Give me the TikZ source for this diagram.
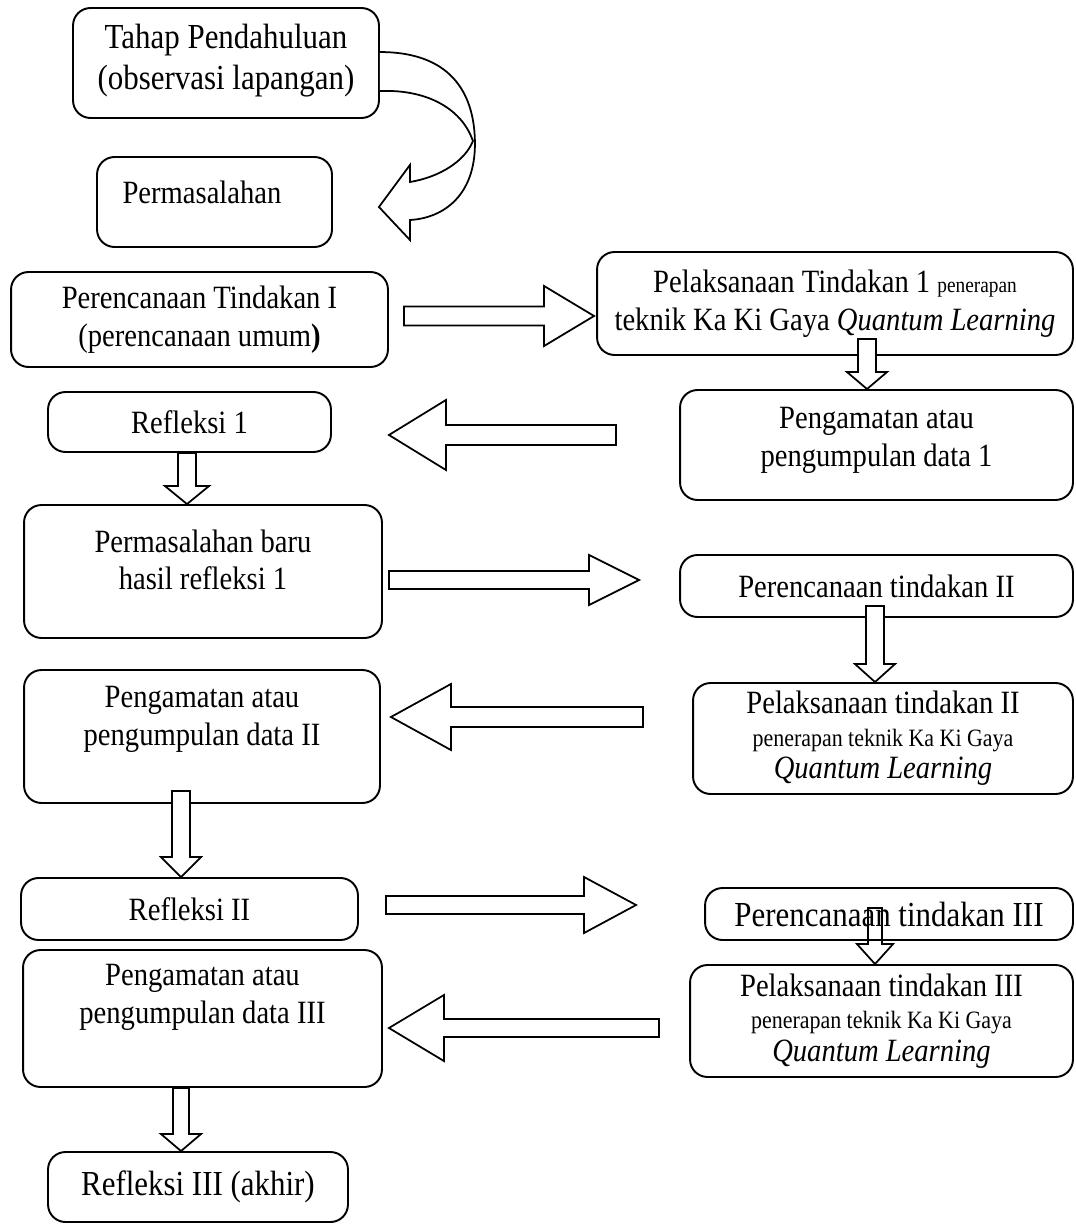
\documentclass[tikz,border=0pt]{standalone}
\usepackage{fontspec}
\setmainfont{Liberation Serif}[FakeStretch=0.88]
\usetikzlibrary{calc}

% block arrow: [options]{from}{to}{shaft half width}{head half width}{head length}, sizes in px
\newcommand{\fatarrow}[6][]{%
  \coordinate (fa-h) at ($(#3)!#6*0.02cm!(#2)$);
  \draw[fat,#1] ($(#2)!#4*0.02cm!90:(#3)$) -- ($(fa-h)!#4*0.02cm!90:(#3)$)
    -- ($(fa-h)!#5*0.02cm!90:(#3)$) -- (#3)
    -- ($(fa-h)!#5*0.02cm!-90:(#3)$) -- ($(fa-h)!#4*0.02cm!-90:(#3)$)
    -- ($(#2)!#4*0.02cm!-90:(#3)$) -- cycle;
}

\begin{document}
\begin{tikzpicture}[
x=0.02cm, y=-0.02cm,
box/.style={
	rectangle,
	rounded corners=0.35cm,
	draw=black,
	line width=1.1pt,
	align=center,
	inner sep=2pt,
	font=\fontsize{18.5}{21.5}\selectfont
},
big/.style={
	font=\fontsize{20}{23}\selectfont
},
small/.style={
	font=\fontsize{14.2}{16}\selectfont
},
fat/.style={
	draw=black,
	line width=1pt,
	fill=white,
	line join=miter
}
]
\useasboundingbox (0,0) rectangle (1075,1226);

% Left column
\node [box, big, minimum width=6.12cm, minimum height=2.2cm] (intro) at (226,63) {Tahap Pendahuluan\\(observasi lapangan)\\[-16pt]~};
\node [box, minimum width=4.7cm, minimum height=1.8cm] (problem) at (214.5,202) {Permasalahan\hspace*{0.5cm}\\[-10pt]~};
\node [box, minimum width=7.54cm, minimum height=1.9cm] (plan1) at (199.5,319.5) {Perencanaan Tindakan I\\(perencanaan umum\textbf{)}};
\node [box, minimum width=5.66cm, minimum height=1.2cm] (refl1) at (189.5,422) {Refleksi 1};
\node [box, minimum width=7.16cm, minimum height=2.66cm] (prob2) at (203,571.5) {Permasalahan baru\\hasil refleksi 1\\[-8pt]~};
\node [box, minimum width=7.12cm, minimum height=2.66cm] (obs2) at (202,736.5) {Pengamatan atau\\pengumpulan data II\\[2pt]~};
\node [box, minimum width=6.74cm, minimum height=1.24cm] (refl2) at (189.5,909) {Refleksi II};
\node [box, minimum width=7.18cm, minimum height=2.74cm] (obs3) at (202.5,1018.5) {Pengamatan atau\\pengumpulan data III\\[7pt]~};
\node [box, big, minimum width=6cm, minimum height=1.4cm] (refl3) at (198,1187) {Refleksi III (akhir)};

% Right column
\node [box, minimum width=9.52cm, minimum height=2.06cm] (act1) at (835,303.5) {Pelaksanaan Tindakan 1 {\fontsize{12.5}{14}\selectfont penerapan}\\teknik Ka Ki Gaya \textit{Quantum Learning}};
\node [box, minimum width=7.86cm, minimum height=2.2cm] (obs1) at (876.5,445) {Pengamatan atau\\pengumpulan data 1\\[-12pt]~};
\node [box, minimum width=7.86cm, minimum height=1.24cm] (plan2) at (876.5,586) {Perencanaan tindakan II};
\node [box, minimum width=7.6cm, minimum height=2.22cm] (act2) at (883,738.5) {Pelaksanaan tindakan II\\[-3pt]{\fontsize{14.2}{16}\selectfont penerapan teknik Ka Ki Gaya}\\[-3pt]\textit{Quantum Learning}};
\node [box, big, minimum width=7.36cm, minimum height=1.04cm] (plan3) at (889,914) {Perencanaan tindakan III};
\node [box, minimum width=7.66cm, minimum height=2.24cm] (act3) at (881.5,1021) {Pelaksanaan tindakan III\\[-3pt]{\fontsize{14.2}{16}\selectfont penerapan teknik Ka Ki Gaya}\\[-3pt]\textit{Quantum Learning}};

% Curved arrow
\coordinate (c-out) at ($(intro.north east)+(0,45)$);
\coordinate (c-in) at ($(intro.north east)+(0,84)$);
\coordinate (c-tip) at ($(problem.east)+(46,5)$);
\draw [fat] (c-out) .. controls +(76,0) and +(0,-45) .. ($(c-out)+(95,92)$)
	.. controls +(0,50) and +(35,-2) .. ($(c-tip)+(31,13)$)
	-- ($(c-tip)+(31,33)$) -- (c-tip) -- ($(c-tip)+(31,-42)$) -- ($(c-tip)+(31,-25)$)
	.. controls +(30,-5) and +(-8,20) .. ($(c-in)+(93,50)$)
	.. controls +(-10,-30) and +(50,-2) .. (c-in);

% Block arrows
\coordinate (a2-s) at ($(plan1.east)+(15,-3.5)$);
\coordinate (a2-e) at ($(act1.west)+(-2,12.5)$);
\fatarrow{a2-s}{a2-e}{9.5}{30}{50}
\coordinate (a3-s) at ($(act1.south)+(32,-17)$);
\coordinate (a3-e) at ($(obs1.north)+(-9.5,0)$);
\fatarrow{a3-s}{a3-e}{9}{20}{17}
\coordinate (a4-s) at ($(obs1.west)+(-63,-10)$);
\coordinate (a4-e) at ($(refl1.east)+(57,13)$);
\fatarrow{a4-s}{a4-e}{10}{35}{57}
\coordinate (a5-s) at ($(refl1.south)+(-2.5,0)$);
\coordinate (a5-e) at ($(prob2.north)+(-16,0)$);
\fatarrow{a5-s}{a5-e}{9}{22}{18}
\coordinate (a6-s) at ($(prob2.east)+(6,8.5)$);
\coordinate (a6-e) at ($(plan2.west)+(-40,-6)$);
\fatarrow{a6-s}{a6-e}{9}{25}{50}
\coordinate (a7-s) at ($(plan2.south)+(-1.5,-12)$);
\coordinate (a7-e) at ($(act2.north)+(-8,0)$);
\fatarrow{a7-s}{a7-e}{9}{20}{18}
\coordinate (a8-s) at ($(act2.west)+(-49,-21.5)$);
\coordinate (a8-e) at ($(obs2.east)+(10,-19.5)$);
\fatarrow{a8-s}{a8-e}{10}{33}{60}
\coordinate (a9-s) at ($(obs2.south)+(-21,-13)$);
\coordinate (a9-e) at ($(refl2.north)+(-8.5,0)$);
\fatarrow{a9-s}{a9-e}{9}{20}{20}
\coordinate (a10-s) at ($(refl2.east)+(27,-4)$);
\coordinate (a10-e) at ($(plan3.west)+(-68,-9)$);
\fatarrow{a10-s}{a10-e}{9}{28}{52}
\coordinate (a11-s) at ($(plan3.south)+(-14,-33)$);
\coordinate (a11-e) at ($(act3.north)+(-6.5,0)$);
\fatarrow[fill=none]{a11-s}{a11-e}{7}{18}{20}
\coordinate (a12-s) at ($(act3.west)+(-30,7)$);
\coordinate (a12-e) at ($(obs3.east)+(6,9.5)$);
\fatarrow{a12-s}{a12-e}{9}{33}{55}
\coordinate (a13-s) at ($(obs3.south)+(-21.5,0)$);
\coordinate (a13-e) at ($(refl3.north)+(-17,0)$);
\fatarrow{a13-s}{a13-e}{8}{20}{17}

\end{tikzpicture}
\end{document}
